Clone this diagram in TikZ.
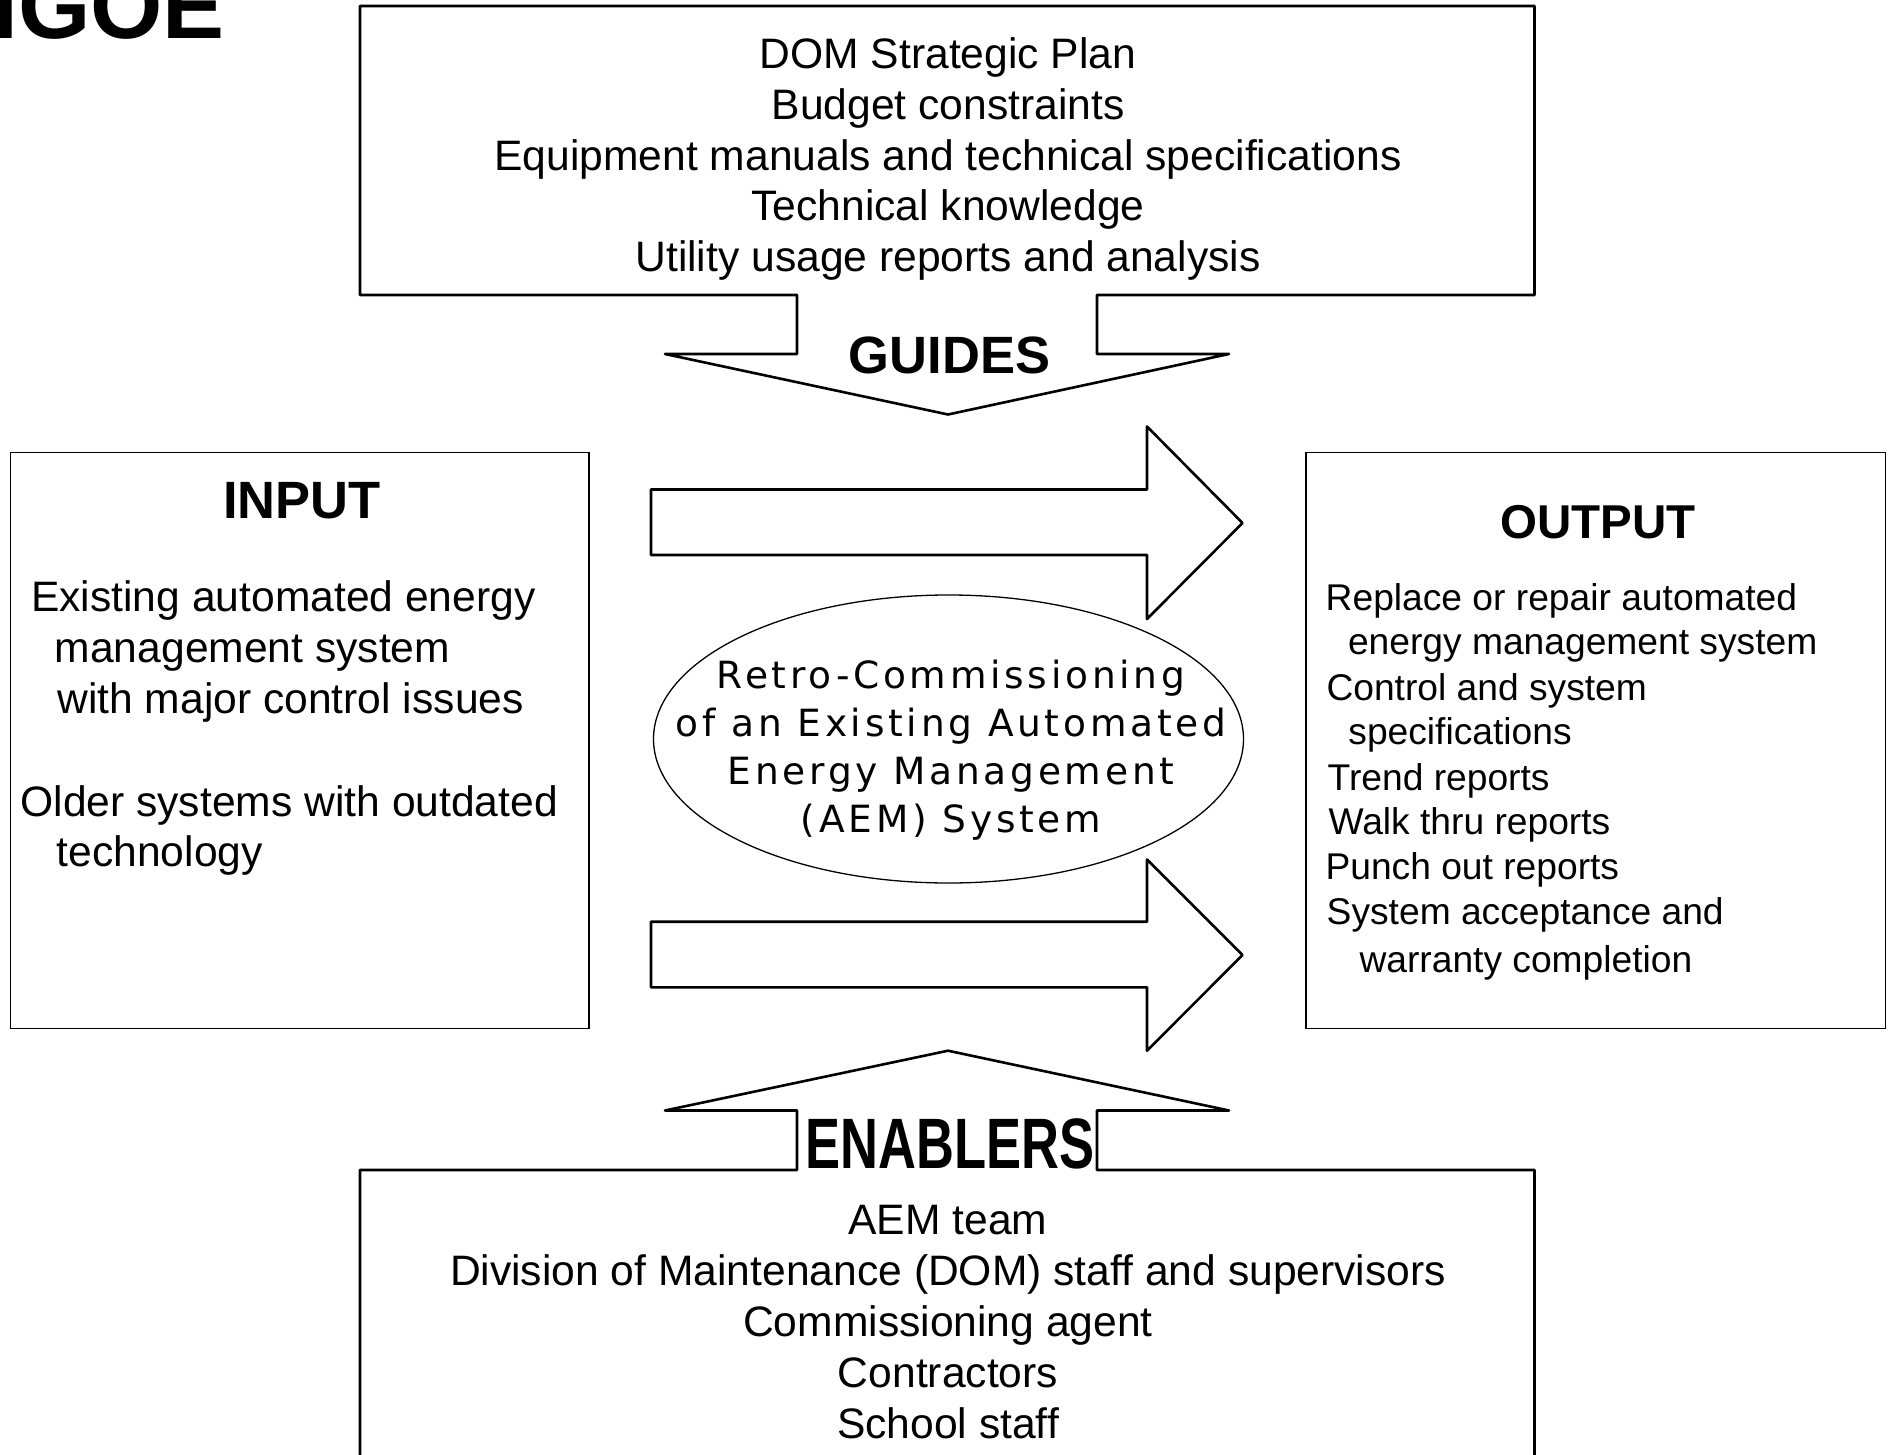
\documentclass[tikz,border=0pt]{standalone}
\usepackage{fontspec}
\setmainfont{Liberation Sans}
\newfontfamily\ellfont[LetterSpace=10]{DejaVu Sans}
\usetikzlibrary{shapes.geometric}
\tikzset{
  txt/.style={inner sep=0pt, font=\fontsize{42.6}{51}\selectfont},
  outtxt/.style={inner sep=0pt, font=\fontsize{37.2}{45}\selectfont},
  ttl/.style={inner sep=0pt, font=\fontsize{52.5}{60}\selectfont\bfseries},
  elltxt/.style={inner sep=0pt, font=\ellfont\fontsize{37.5}{44}\selectfont},
  frame/.style={draw, line width=2.6pt, line join=round},
  panel/.style={draw, line width=1.6pt, inner sep=0pt},
}
\begin{document}
\begin{tikzpicture}[x=1pt,y=-1pt]
\useasboundingbox (0,0) rectangle (1893,1455);
\fill[white] (0,0) rectangle (1893,1455);

% cut-off heading at top left
\node[inner sep=0pt, anchor=base east, font=\fontsize{93}{105}\selectfont\bfseries] (head) at (225,38.5) {IGOE};

% GUIDES callout (top box)
\draw[frame] (360,6) -- (1534.5,6) -- (1534.5,295) -- (1097,295) -- (1097,354)
  -- (1229,354) -- (948,414.5) -- (665,354) -- (797,354) -- (797,295) -- (360,295) -- cycle;
\foreach \i/\yy/\t in {1/68.5/DOM Strategic Plan, 2/119.3/Budget constraints,
  3/170.1/Equipment manuals and technical specifications, 4/220.9/Technical knowledge,
  5/271.7/Utility usage reports and analysis}
  \node[txt, anchor=base] (guide\i) at (948,\yy) {\t};
\node[ttl, anchor=base] (guides) at (949.5,373.3) {GUIDES};

% ENABLERS callout (bottom box)
\draw[frame] (360,1500) -- (360,1170) -- (797,1170) -- (797,1110.5) -- (665,1110.5)
  -- (948,1050.7) -- (1229,1110.5) -- (1097,1110.5) -- (1097,1170) -- (1534.5,1170) -- (1534.5,1500);
\node[inner sep=0pt, anchor=base, font=\fontsize{52.5}{60}\selectfont\bfseries] (enablers) at (950,1168) {\scalebox{1}[1.36]{ENABLERS}};
\foreach \i/\yy/\t in {1/1234.6/AEM team, 2/1285.5/Division of Maintenance (DOM) staff and supervisors,
  3/1336.5/Commissioning agent, 4/1387.5/Contractors, 5/1438.4/School staff}
  \node[txt, anchor=base] (enab\i) at (948,\yy) {\t};

% INPUT panel
\node[panel, anchor=north west, minimum width=578.3pt, minimum height=576pt] (inbox) at (9.7,451.5) {};
\node[ttl, anchor=base] (inputttl) at (302,518.5) {INPUT};
\node[txt, anchor=base west] (in1) at (31,611) {Existing automated energy};
\node[txt, anchor=base west] (in2) at (54.6,662.5) {management system};
\node[txt, anchor=base west] (in3) at (57.2,713.5) {with major control issues};
\node[txt, anchor=base west] (in4) at (20.2,816) {Older systems with outdated};
\node[txt, anchor=base west] (in5) at (56.5,866.5) {technology};

% OUTPUT panel
\node[panel, anchor=north west, minimum width=579.6pt, minimum height=576pt] (outbox) at (1305,451.5) {};
\node[inner sep=0pt, anchor=base, font=\fontsize{47.5}{55}\selectfont\bfseries] (outputttl) at (1598,538) {OUTPUT};
\node[outtxt, anchor=base west] (out1) at (1325.5,610.5) {Replace or repair automated};
\node[outtxt, anchor=base west] (out2) at (1347.8,654) {energy management system};
\node[outtxt, anchor=base west] (out3) at (1326.3,700.5) {Control and system};
\node[outtxt, anchor=base west] (out4) at (1348.2,744) {specifications};
\node[outtxt, anchor=base west] (out5) at (1327.5,790.5) {Trend reports};
\node[outtxt, anchor=base west] (out6) at (1328.3,834) {Walk thru reports};
\node[outtxt, anchor=base west] (out7) at (1325.3,879) {Punch out reports};
\node[outtxt, anchor=base west] (out8) at (1326.5,924) {System acceptance and};
\node[outtxt, anchor=base west] (out9) at (1359.3,972.5) {warranty completion};

% block arrows
\draw[frame] (651,489.5) -- (1147,489.5) -- (1147,426.5) -- (1242.5,523) -- (1147,619)
  -- (1147,555) -- (651,555) -- cycle;
\draw[frame] (651,921.7) -- (1147,921.7) -- (1147,859.5) -- (1242.5,955) -- (1147,1050.7)
  -- (1147,987.3) -- (651,987.3) -- cycle;

% central ellipse
\node[draw, ellipse, line width=1.3pt, minimum width=590pt, minimum height=288pt, inner sep=0pt] (core) at (948.5,739) {};
\node[elltxt, anchor=base] (core1) at (951,688.5) {Retro-Commissioning};
\node[elltxt, anchor=base] (core2) at (951,736.5) {of an Existing Automated};
\node[elltxt, anchor=base] (core3) at (951,784.5) {Energy Management};
\node[elltxt, anchor=base] (core4) at (951,832.5) {(AEM) System};
\end{tikzpicture}
\end{document}
